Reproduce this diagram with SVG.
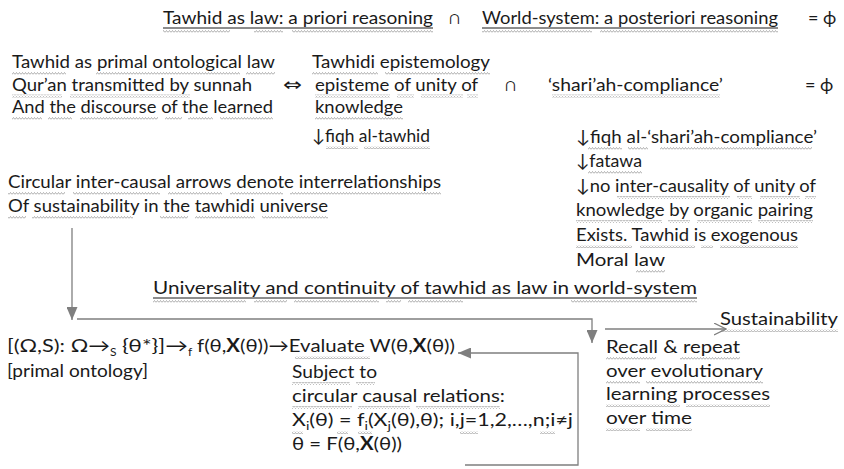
<svg xmlns="http://www.w3.org/2000/svg" width="844" height="469" viewBox="0 0 844 469">
  <defs>
    <style>
      text { font-family: Lato, "Open Sans", "DejaVu Sans", sans-serif; font-size: 18px; fill: #1a1a1a; }
      .sub { font-size: 12px; }
      .b { font-weight: bold; }
      .sq { fill: url(#squiggle); }
      .ul { stroke: #1a1a1a; stroke-width: 1; }
      .conn { fill: none; stroke: #7f7f7f; stroke-width: 1.3; }
    </style>
    <!-- wavy proofing underline -->
    <pattern id="squiggle" width="3" height="3" patternUnits="userSpaceOnUse">
      <path d="M0,2.5 L1.5,0.5 L3,2.5" fill="none" stroke="#9a9a9a" stroke-width="0.8"/>
    </pattern>
    <marker id="head" viewBox="0 0 13 11" markerWidth="13" markerHeight="11" refX="13" refY="5.5" orient="auto" markerUnits="userSpaceOnUse">
      <path d="M0,0 L13,5.5 L0,11 z" fill="#7f7f7f"/>
    </marker>
    <marker id="chevron" viewBox="0 0 13 13" markerWidth="13" markerHeight="13" refX="12" refY="6.5" orient="auto" markerUnits="userSpaceOnUse">
      <path d="M0,0.5 L12,6.5 L0,12.5" fill="none" stroke="#7f7f7f" stroke-width="1.2"/>
    </marker>
  </defs>

  <rect width="844" height="469" fill="#ffffff"/>

  <!-- headline equation -->
  <g id="headline">
    <text x="163" y="24" textLength="270" lengthAdjust="spacingAndGlyphs">Tawhid as law: a priori reasoning</text>
    <line class="ul" x1="163" y1="28" x2="433" y2="28"/>
    <text x="449" y="24">∩</text>
    <text x="482" y="24" textLength="296" lengthAdjust="spacingAndGlyphs">World-system: a posteriori reasoning</text>
    <line class="ul" x1="482" y1="28" x2="778" y2="28"/>
    <text x="808" y="24">= ϕ</text>
    <rect class="sq" x="163" y="30" width="67" height="3"/>
    <rect class="sq" x="254" y="30" width="29" height="3"/>
    <rect class="sq" x="292" y="30" width="141" height="3"/>
    <rect class="sq" x="482" y="30" width="110" height="3"/>
    <rect class="sq" x="600" y="30" width="178" height="3"/>
  </g>

  <!-- primal ontological law -->
  <g id="ontology">
    <text x="12" y="68" textLength="263" lengthAdjust="spacingAndGlyphs">Tawhid as primal ontological law</text>
    <text x="12" y="90.5" textLength="240" lengthAdjust="spacingAndGlyphs">Qur’an transmitted by sunnah</text>
    <text x="12" y="113" textLength="261" lengthAdjust="spacingAndGlyphs">And the discourse of the learned</text>
    <rect class="sq" x="12" y="72" width="54" height="3"/>
    <rect class="sq" x="96" y="72" width="144" height="3"/>
    <rect class="sq" x="246" y="72" width="29" height="3"/>
    <rect class="sq" x="12" y="94.5" width="50" height="3"/>
    <rect class="sq" x="70" y="94.5" width="120" height="3"/>
    <rect class="sq" x="12" y="117" width="30" height="3"/>
    <rect class="sq" x="48" y="117" width="24" height="3"/>
    <rect class="sq" x="80" y="117" width="78" height="3"/>
    <rect class="sq" x="165" y="117" width="17" height="3"/>
    <rect class="sq" x="188" y="117" width="25" height="3"/>
    <rect class="sq" x="220" y="117" width="53" height="3"/>
  </g>

  <g id="equivalence">
    <text x="283" y="90.5" textLength="19" lengthAdjust="spacingAndGlyphs">⇔</text>
  </g>

  <!-- tawhidi epistemology -->
  <g id="epistemology">
    <text x="312" y="68" textLength="178" lengthAdjust="spacingAndGlyphs">Tawhidi epistemology</text>
    <text x="315" y="90.5" textLength="163" lengthAdjust="spacingAndGlyphs">episteme of unity of</text>
    <text x="315" y="113" textLength="88" lengthAdjust="spacingAndGlyphs">knowledge</text>
    <text x="312" y="142" textLength="118" lengthAdjust="spacingAndGlyphs">↓fiqh al-tawhid</text>
    <rect class="sq" x="312" y="72" width="66" height="3"/>
    <rect class="sq" x="385" y="72" width="105" height="3"/>
    <rect class="sq" x="315" y="94.5" width="75" height="3"/>
    <rect class="sq" x="397" y="94.5" width="17" height="3"/>
    <rect class="sq" x="421" y="94.5" width="42" height="3"/>
    <rect class="sq" x="467" y="94.5" width="11" height="3"/>
    <rect class="sq" x="315" y="117" width="88" height="3"/>
    <rect class="sq" x="326" y="146" width="32" height="3"/>
    <rect class="sq" x="364" y="146" width="66" height="3"/>
  </g>

  <g id="intersection">
    <text x="505" y="90.5">∩</text>
  </g>

  <!-- shari'ah-compliance -->
  <g id="compliance">
    <text x="548" y="90.5" textLength="175" lengthAdjust="spacingAndGlyphs">‘shari’ah-compliance’</text>
    <text x="805" y="90.5">= ϕ</text>
    <rect class="sq" x="552" y="94.5" width="168" height="3"/>
  </g>

  <!-- derivation under shari'ah-compliance -->
  <g id="fatawa">
    <text x="576" y="143" textLength="241" lengthAdjust="spacingAndGlyphs">↓fiqh al-‘shari’ah-compliance’</text>
    <text x="576" y="167" textLength="66" lengthAdjust="spacingAndGlyphs">↓fatawa</text>
    <text x="576" y="192" textLength="240" lengthAdjust="spacingAndGlyphs">↓no inter-causality of unity of</text>
    <text x="576" y="216" textLength="237" lengthAdjust="spacingAndGlyphs">knowledge by organic pairing</text>
    <text x="576" y="241" textLength="222" lengthAdjust="spacingAndGlyphs">Exists. Tawhid is exogenous</text>
    <text x="576" y="266" textLength="89" lengthAdjust="spacingAndGlyphs">Moral law</text>
    <rect class="sq" x="588" y="147" width="34" height="3"/>
    <rect class="sq" x="628" y="147" width="20" height="3"/>
    <rect class="sq" x="660" y="147" width="152" height="3"/>
    <rect class="sq" x="588" y="171" width="54" height="3"/>
    <rect class="sq" x="617" y="196" width="113" height="3"/>
    <rect class="sq" x="737" y="196" width="15" height="3"/>
    <rect class="sq" x="760" y="196" width="40" height="3"/>
    <rect class="sq" x="805" y="196" width="11" height="3"/>
    <rect class="sq" x="576" y="220" width="86" height="3"/>
    <rect class="sq" x="668" y="220" width="22" height="3"/>
    <rect class="sq" x="697" y="220" width="55" height="3"/>
    <rect class="sq" x="758" y="220" width="55" height="3"/>
    <rect class="sq" x="576" y="245" width="56" height="3"/>
    <rect class="sq" x="640" y="245" width="55" height="3"/>
    <rect class="sq" x="701" y="245" width="12" height="3"/>
    <rect class="sq" x="720" y="245" width="78" height="3"/>
    <rect class="sq" x="636" y="270" width="29" height="3"/>
  </g>

  <!-- note on circular causation -->
  <g id="circular-note">
    <text x="8" y="188" textLength="433" lengthAdjust="spacingAndGlyphs">Circular inter-causal arrows denote interrelationships</text>
    <text x="8" y="212" textLength="320" lengthAdjust="spacingAndGlyphs">Of sustainability in the tawhidi universe</text>
    <rect class="sq" x="8" y="192" width="57" height="3"/>
    <rect class="sq" x="73" y="192" width="87" height="3"/>
    <rect class="sq" x="168" y="192" width="54" height="3"/>
    <rect class="sq" x="230" y="192" width="53" height="3"/>
    <rect class="sq" x="290" y="192" width="151" height="3"/>
    <rect class="sq" x="8" y="216" width="18" height="3"/>
    <rect class="sq" x="32" y="216" width="101" height="3"/>
    <rect class="sq" x="160" y="216" width="28" height="3"/>
    <rect class="sq" x="195" y="216" width="60" height="3"/>
    <rect class="sq" x="262" y="216" width="66" height="3"/>
  </g>

  <!-- universality heading -->
  <g id="universality">
    <text x="153" y="294" textLength="544" lengthAdjust="spacingAndGlyphs">Universality and continuity of tawhid as law in world-system</text>
    <line class="ul" x1="153" y1="298" x2="697" y2="298"/>
    <rect class="sq" x="153" y="300" width="93" height="3"/>
    <rect class="sq" x="254" y="300" width="33" height="3"/>
    <rect class="sq" x="294" y="300" width="85" height="3"/>
    <rect class="sq" x="386" y="300" width="15" height="3"/>
    <rect class="sq" x="408" y="300" width="55" height="3"/>
    <rect class="sq" x="571" y="300" width="126" height="3"/>
  </g>

  <g id="sustainability">
    <text x="720" y="325" textLength="118" lengthAdjust="spacingAndGlyphs">Sustainability</text>
    <rect class="sq" x="720" y="329" width="118" height="3"/>
  </g>

  <!-- welfare evaluation -->
  <g id="evaluation">
    <text x="7" y="352" textLength="103" lengthAdjust="spacingAndGlyphs">[(Ω,S): Ω→</text>
    <text class="sub" x="110" y="356">S</text>
    <text x="122" y="352" textLength="66" lengthAdjust="spacingAndGlyphs">{θ*}]→</text>
    <text class="sub" x="188" y="356">f</text>
    <text x="197" y="352" textLength="258" lengthAdjust="spacingAndGlyphs">f(θ,<tspan class="b">X</tspan>(θ))→Evaluate W(θ,<tspan class="b">X</tspan>(θ))</text>
    <rect class="sq" x="295" y="356" width="75" height="3"/>
    <text x="7" y="377" textLength="141" lengthAdjust="spacingAndGlyphs">[primal ontology]</text>
  </g>

  <!-- circular causal relations -->
  <g id="relations">
    <text x="292" y="378" textLength="85" lengthAdjust="spacingAndGlyphs">Subject to</text>
    <text x="292" y="402" textLength="213" lengthAdjust="spacingAndGlyphs">circular causal relations:</text>
    <text x="292" y="426" textLength="281" lengthAdjust="spacingAndGlyphs">X<tspan class="sub" dy="4">i</tspan><tspan dy="-4">(θ) = f</tspan><tspan class="sub" dy="4">i</tspan><tspan dy="-4">(X</tspan><tspan class="sub" dy="4">j</tspan><tspan dy="-4">(θ),θ); i,j=1,2,…,n;i≠j</tspan></text>
    <text x="292" y="450" textLength="110" lengthAdjust="spacingAndGlyphs">θ = F(θ,<tspan class="b">X</tspan>(θ))</text>
    <rect class="sq" x="292" y="382" width="58" height="3"/>
    <rect class="sq" x="356" y="382" width="19" height="3"/>
    <rect class="sq" x="292" y="406" width="60" height="3"/>
    <rect class="sq" x="358" y="406" width="52" height="3"/>
    <rect class="sq" x="416" y="406" width="84" height="3"/>
    <rect class="sq" x="292" y="431" width="11" height="3"/>
    <rect class="sq" x="337" y="431" width="11" height="3"/>
    <rect class="sq" x="358" y="431" width="14" height="3"/>
    <rect class="sq" x="460" y="431" width="18" height="3"/>
    <rect class="sq" x="540" y="431" width="15" height="3"/>
  </g>

  <!-- learning over time -->
  <g id="recall">
    <text x="606" y="353" textLength="134" lengthAdjust="spacingAndGlyphs">Recall &amp; repeat</text>
    <text x="606" y="377" textLength="157" lengthAdjust="spacingAndGlyphs">over evolutionary</text>
    <text x="606" y="400" textLength="164" lengthAdjust="spacingAndGlyphs">learning processes</text>
    <text x="606" y="424" textLength="86" lengthAdjust="spacingAndGlyphs">over time</text>
    <rect class="sq" x="606" y="357" width="50" height="3"/>
    <rect class="sq" x="680" y="357" width="60" height="3"/>
    <rect class="sq" x="606" y="381" width="34" height="3"/>
    <rect class="sq" x="646" y="381" width="117" height="3"/>
    <rect class="sq" x="606" y="404" width="74" height="3"/>
    <rect class="sq" x="686" y="404" width="84" height="3"/>
    <rect class="sq" x="606" y="428" width="34" height="3"/>
    <rect class="sq" x="646" y="428" width="46" height="3"/>
  </g>

  <!-- connectors -->
  <g id="connectors">
    <line class="conn" x1="72" y1="228" x2="72" y2="320" marker-end="url(#head)"/>
    <polyline class="conn" points="77,319 592,319 592,343" marker-end="url(#head)"/>
    <line class="conn" x1="605" y1="329" x2="726" y2="329" marker-end="url(#chevron)"/>
    <polyline class="conn" points="465,465 578,465 578,353 458,353" marker-end="url(#head)"/>
  </g>
</svg>
